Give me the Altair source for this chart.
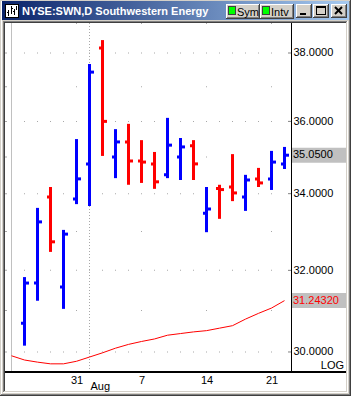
import altair as alt
import pandas as pd
import numpy as np

# ---------------- data ----------------
dates = ["Jul 24", "Jul 27", "Jul 28", "Jul 29", "Jul 30", "Jul 31",
         "Aug 3", "Aug 4", "Aug 5", "Aug 6", "Aug 7",
         "Aug 10", "Aug 11", "Aug 12", "Aug 13", "Aug 14",
         "Aug 17", "Aug 18", "Aug 19", "Aug 20", "Aug 21", "Aug 24"]
bar_dates = dates[1:]
opens = [30.69, 31.68, 33.91, 31.58, 33.86, 34.81, 38.15, 35.00, 35.42, 34.89,
         34.81, 34.51, 35.00, 35.31, 33.48, 34.14, 34.18, 33.91, 34.40, 34.40, 34.81]
highs = [31.83, 33.62, 34.18, 33.04, 35.50, 37.67, 38.39, 35.78, 35.93, 35.47,
         35.14, 36.10, 35.53, 35.47, 34.18, 34.24, 35.08, 34.51, 34.70, 35.17, 35.28]
lows = [30.15, 31.24, 32.47, 31.04, 33.72, 33.67, 35.03, 34.42, 34.24, 34.29,
        34.13, 34.42, 34.37, 34.37, 32.98, 33.33, 33.80, 33.54, 34.18, 34.10, 34.67]
closes = [31.68, 33.25, 32.73, 32.93, 34.40, 37.43, 36.00, 35.42, 34.89, 34.86,
          34.32, 35.33, 35.28, 34.81, 33.59, 34.11, 34.02, 34.37, 34.29, 34.86, 35.05]
ma_values = [29.91, 29.81, 29.76, 29.72, 29.72, 29.78, 29.88, 29.98, 30.09, 30.18, 30.25,
             30.31, 30.40, 30.44, 30.48, 30.51, 30.57, 30.63, 30.79, 30.93, 31.06, 31.2432]
friday_dates = ["Jul 31", "Aug 7", "Aug 14", "Aug 21"]
grid_dates = dates[1:21]
major_levels = [30, 32, 34, 36, 38]
minor_levels = [31, 33, 35, 37]
month_start = "Aug 3"
month_name = "Aug"
title_text = "NYSE:SWN,D Southwestern Energy"
scale_label = "LOG"

# ---------------- layout ----------------
W, H = 286, 348          # plot area (orig x 5..291, y 23..371)
OX, OY = 5, 23
BG = "#d4d0c8"
FONT = "Liberation Sans"
GRID = "#a8a8a8"

bars = pd.DataFrame({"date": bar_dates, "open": opens, "high": highs,
                     "low": lows, "close": closes})
bars["dir"] = np.where(bars["close"] > bars["open"], "up", "down")
ma_df = pd.DataFrame({"date": dates, "ma": ma_values})
major_dots = pd.DataFrame([(d, v) for v in major_levels for d in grid_dates],
                          columns=["date", "level"])
minor_dots = pd.DataFrame([(d, v) for v in minor_levels for d in friday_dates],
                          columns=["date", "level"])
all_levels = pd.DataFrame({"level": sorted(major_levels + minor_levels)})
major_df = pd.DataFrame({"level": major_levels})
fri_df = pd.DataFrame({"date": friday_dates})
last_df = pd.DataFrame({
    "value": [closes[-1], ma_values[-1]],
    "label": [f"{closes[-1]:.4f}", f"{ma_values[-1]:.5f}"],
    "kind": ["close", "ma"],
})
one = pd.DataFrame({"k": [0]})

xs = alt.Scale(type="point", domain=dates, padding=0.5)
ys = alt.Scale(type="log", domain=[29.552, 38.912], nice=False)

x_axis = alt.Axis(values=friday_dates, labelExpr="split(datum.label, ' ')[1]",
                  ticks=False, domain=False, grid=False, labelAngle=0,
                  labelPadding=3, labelFont=FONT, labelFontSize=11,
                  labelColor="#000000", title=None, zindex=1)
y_axis = alt.Axis(orient="right", values=major_levels, format=".4f",
                  ticks=False, domain=False, grid=False, labelPadding=2,
                  labelFont=FONT, labelFontSize=11, labelColor="#000000",
                  title=None, zindex=1)


def X():
    return alt.X("date:O", scale=xs, axis=x_axis, title=None)


def Y(field):
    return alt.Y(f"{field}:Q", scale=ys, axis=y_axis, title=None)


def R(x1, y1, x2, y2, color):
    return alt.Chart(one).mark_rect(color=color).encode(
        x=alt.value(x1 - OX), x2=alt.value(x2 - OX),
        y=alt.value(y1 - OY), y2=alt.value(y2 - OY))


def T(x, y, text, color="#000000", size=11, weight="normal", align="left"):
    return alt.Chart(one).mark_text(
        align=align, baseline="alphabetic", font=FONT, fontSize=size,
        fontWeight=weight, color=color).encode(
        x=alt.value(x - OX), y=alt.value(y - OY), text=alt.value(text))


def button(x1, y1, x2, y2):
    return [R(x1, y1, x2, y2, "#404040"), R(x1, y1, x2 - 1, y2 - 1, "#ffffff"),
            R(x1 + 1, y1 + 1, x2 - 1, y2 - 1, "#808080"),
            R(x1 + 1, y1 + 1, x2 - 2, y2 - 2, BG)]


chrome = []
# outer frame
chrome += [R(0, 0, 351, 396, BG), R(1, 1, 350, 2, "#ffffff"), R(1, 1, 2, 395, "#ffffff"),
           R(350, 0, 351, 396, "#404040"), R(349, 1, 350, 395, "#808080"),
           R(0, 395, 351, 396, "#404040"), R(1, 394, 350, 395, "#808080")]
# title bar
grad = alt.Gradient(gradient="linear",
                    stops=[alt.GradientStop(color="#0a246a", offset=0),
                           alt.GradientStop(color="#a6caf0", offset=1)],
                    x1=0, x2=1, y1=0, y2=0)
chrome.append(alt.Chart(one).mark_rect(color=grad).encode(
    x=alt.value(2 - OX), x2=alt.value(349 - OX),
    y=alt.value(1 - OY), y2=alt.value(20 - OY)))
# window icon
chrome += [R(5, 4, 19, 18, "#000000"), R(6, 5, 18, 17, "#ffffff"),
           R(8, 10, 9, 16, "#000000"), R(7, 12, 8, 13, "#000000"),
           R(11, 6, 12, 14, "#000000"), R(12, 8, 13, 9, "#000000"),
           R(14, 9, 15, 15, "#000000"), R(13, 11, 14, 12, "#000000"),
           R(16, 6, 17, 10, "#000000")]
chrome.append(T(22, 15, title_text, color="#ffffff", size=11, weight="bold"))
# Sym / Intv buttons
chrome += button(226, 4, 260, 19)
chrome += [R(228, 6, 236, 15, "#404040"), R(229, 7, 235, 14, "#00ff00")]
chrome.append(T(237, 16, "Sym"))
chrome += button(260, 4, 294, 19)
chrome += [R(262, 6, 270, 15, "#404040"), R(263, 7, 269, 14, "#00ff00")]
chrome.append(T(271, 16, "Intv"))
# min / max / close
chrome += button(296, 4, 312, 18)
chrome.append(R(300, 13, 306, 15, "#000000"))
chrome += button(313, 4, 329, 18)
chrome += [R(316, 6, 326, 15, "#000000"), R(317, 8, 325, 14, BG)]
chrome += button(331, 4, 347, 18)
for (a, b, c, d) in [(335, 7, 342, 14), (342, 7, 335, 14)]:
    chrome.append(alt.Chart(one).mark_rule(color="#000000", strokeWidth=2).encode(
        x=alt.value(a - OX), y=alt.value(b - OY),
        x2=alt.value(c - OX), y2=alt.value(d - OY)))
# sunken client area
chrome += [R(3, 21, 348, 393, "#ffffff"), R(3, 21, 347, 392, "#808080"),
           R(4, 22, 347, 392, BG), R(4, 22, 346, 391, "#404040"),
           R(5, 23, 346, 391, "#ffffff")]

# ---------------- plot layers ----------------
dots_major = alt.Chart(major_dots).mark_square(size=1, color=GRID, opacity=1).encode(
    x=X(), y=Y("level"))
dots_minor = alt.Chart(minor_dots).mark_square(size=1, color=GRID, opacity=1).encode(
    x=X(), y=Y("level"))
dots_top = alt.Chart(fri_df).mark_square(size=1, color=GRID, opacity=1).encode(
    x=X(), y=alt.value(0.5))
left_ticks = alt.Chart(all_levels).mark_tick(
    orient="horizontal", size=2, thickness=1, color=GRID, opacity=1).encode(
    x=alt.value(1), y=Y("level"))
right_ticks = alt.Chart(major_df).mark_tick(
    orient="horizontal", size=3, thickness=1, color="#808080", opacity=1).encode(
    x=alt.value(W - 1.5), y=Y("level"))
start_line = alt.Chart(pd.DataFrame({"date": [dates[0]]})).mark_rule(
    color="#c0c0c0", strokeWidth=1).encode(x=X(), y=alt.value(0), y2=alt.value(H))
month_line = alt.Chart(pd.DataFrame({"date": [month_start]})).mark_rule(
    color=GRID, strokeWidth=1, strokeDash=[1, 2]).encode(
    x=X(), y=alt.value(0), y2=alt.value(H))
month_text = alt.Chart(pd.DataFrame({"date": [month_start], "t": [month_name]})).mark_text(
    align="left", baseline="alphabetic", font=FONT, fontSize=11, color="#000000", dx=1).encode(
    x=X(), y=alt.value(390 - OY), text="t:N")

ma_line = alt.Chart(ma_df).mark_line(color="#ff0000", strokeWidth=1).encode(
    x=X(), y=Y("ma"))

color = alt.Color("dir:N", scale=alt.Scale(domain=["up", "down"],
                                           range=["#0000ff", "#ff0000"]), legend=None)
hl = alt.Chart(bars).mark_rule(strokeWidth=3).encode(
    x=X(), y=Y("low"), y2="high:Q", color=color)
open_tick = alt.Chart(bars).mark_tick(
    orient="horizontal", size=2, thickness=3, xOffset=-2.5, opacity=1).encode(
    x=X(), y=Y("open"), color=color)
close_tick = alt.Chart(bars).mark_tick(
    orient="horizontal", size=3, thickness=3, xOffset=3, opacity=1).encode(
    x=X(), y=Y("close"), color=color)

# frame lines of the plot
right_line = R(291, 23, 292, 371, "#000000")
bottom_line = R(5, 371, 346, 373, "#000000")

# last-value boxes
boxes = alt.Chart(last_df).mark_tick(
    orient="horizontal", size=54, thickness=15, color="#c0c0c0", opacity=1).encode(
    x=alt.value(319 - OX), y=Y("value"))
box_text = alt.Chart(last_df).mark_text(
    align="left", baseline="middle", font=FONT, fontSize=11).encode(
    x=alt.value(293 - OX), y=Y("value"), text="label:N",
    color=alt.Color("kind:N", scale=alt.Scale(domain=["close", "ma"],
                                              range=["#000000", "#ff0000"]),
                    legend=None))
log_text = T(344, 369, scale_label, align="right")

chart = alt.layer(
    *chrome,
    dots_major, dots_minor, dots_top, left_ticks, right_ticks,
    start_line, month_line, ma_line, hl, open_tick, close_tick,
    right_line, bottom_line, boxes, box_text, log_text, month_text,
).resolve_scale(color="independent").properties(
    width=W, height=H,
    padding={"left": OX, "top": OY, "right": 351 - OX - W, "bottom": 396 - OY - H},
    autosize=alt.AutoSizeParams(type="none"),
    background=BG,
).configure_view(stroke=None)

chart.save("out.html", embed_options={"renderer": "svg", "actions": False})
